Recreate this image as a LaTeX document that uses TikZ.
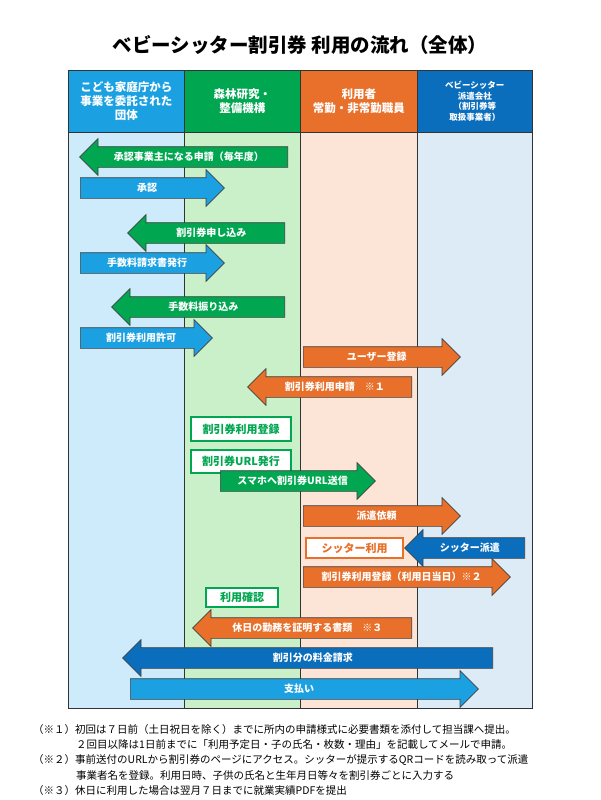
\documentclass[tikz,border=0pt]{standalone}
\usepackage{fontspec}
\setmainfont{Noto Sans CJK JP}
\usetikzlibrary{shapes.arrows,positioning}
\definecolor{cblue}{HTML}{1BA1E2}
\definecolor{cgreen}{HTML}{00A650}
\definecolor{corange}{HTML}{E8702A}
\definecolor{cdblue}{HTML}{0A6EBD}
\definecolor{lblue}{HTML}{CDEBFA}
\definecolor{lgreen}{HTML}{C9F0C9}
\definecolor{lorange}{HTML}{FCE4D6}
\definecolor{lgrey}{HTML}{DDEBF7}
\tikzset{
  head/.style={draw=black!80, line width=0.6, text=white, align=center, font=\bfseries\fontsize{11.5}{14}\selectfont},
  arr/.style={single arrow, draw=black!75, line width=0.7, text=white,
    font=\bfseries\fontsize{10}{11}\selectfont, text height=8.5, text depth=2.5,
    inner ysep=4.5, inner xsep=1, single arrow head extend=8, single arrow head indent=0},
  rarr/.style={arr, anchor=tail},
  larr/.style={arr, anchor=tail, shape border rotate=180},
  box/.style={draw=#1, fill=white, line width=2, text=#1, font=\bfseries\fontsize{11}{12}\selectfont,
    inner sep=2, anchor=north west},
  note/.style={anchor=west, font=\fontsize{10.5}{12}\selectfont, inner sep=0}
}
\begin{document}
\begin{tikzpicture}[x=1pt,y=-1pt]
\useasboundingbox (0,0) rectangle (600,800);
% title
\node (title) at (300,45) {\bfseries\fontsize{19.5}{22}\selectfont ベビーシッター割引券 利用の流れ（全体）};
% lanes
\fill[lblue] (68,132) rectangle (184,708);
\fill[lgreen] (184,132) rectangle (300,708);
\fill[lorange] (300,132) rectangle (417,708);
\fill[lgrey] (417,132) rectangle (532,708);
\draw[black!80, line width=0.6] (68,132) rectangle (532,708)
  (184,132) -- (184,708) (300,132) -- (300,708) (417,132) -- (417,708);
\node[head, fill=cblue, minimum width=116, minimum height=62, anchor=north west] (h1) at (68,70) {こども家庭庁から\\事業を委託された\\団体};
\node[head, fill=cgreen, minimum width=116, minimum height=62, anchor=north west] (h2) at (184,70) {森林研究・\\整備機構};
\node[head, fill=corange, minimum width=117, minimum height=62, anchor=north west] (h3) at (300,70) {利用者\\常勤・非常勤職員};
\node[head, fill=cdblue, minimum width=115, minimum height=62, anchor=north west, font=\bfseries\fontsize{8.5}{10.5}\selectfont] (h4) at (417,70) {ベビーシッター\\派遣会社\\（割引券等\\取扱事業者）};
% flow
\node[larr, fill=cgreen, minimum height=208] (a1) at (288,157) {承認事業主になる申請（毎年度）};
\node[rarr, fill=cblue, minimum height=144] (a2) at (80,188) {承認};
\node[larr, fill=cgreen, minimum height=157] (a3) at (285,233) {割引券申し込み};
\node[rarr, fill=cblue, minimum height=144] (a4) at (80,263) {手数料請求書発行};
\node[larr, fill=cgreen, minimum height=173] (a5) at (285,307) {手数料振り込み};
\node[rarr, fill=cblue, minimum height=132] (a6) at (80,338) {割引券利用許可};
\node[rarr, fill=corange, minimum height=157] (a7) at (303,357) {ユーザー登録};
\node[larr, fill=corange, minimum height=164] (a8) at (412,387) {割引券利用申請　※１};
\node[box=cgreen, minimum width=100, minimum height=24] (b1) at (190,416) {割引券利用登録};
\node[box=cgreen, minimum width=100, minimum height=23] (b2) at (190,449) {割引券URL発行};
\node[rarr, fill=cgreen, minimum height=155] (a9) at (220,481) {スマホへ割引券URL送信};
\node[rarr, fill=corange, minimum height=157] (a10) at (303,516) {派遣依頼};
\node[box=corange, minimum width=97, minimum height=20] (b3) at (305,537) {シッター利用};
\node[larr, fill=cdblue, minimum height=120] (a11) at (525,548) {シッター派遣};
\node[rarr, fill=corange, minimum height=207] (a12) at (303,577) {割引券利用登録（利用日当日）※２};
\node[box=cgreen, minimum width=72, minimum height=19] (b4) at (205,587) {利用確認};
\node[larr, fill=corange, minimum height=219] (a13) at (412,628) {休日の勤務を証明する書類　※３};
\node[larr, fill=cdblue, minimum height=370] (a14) at (493,658) {割引分の料金請求};
\node[rarr, fill=cblue, minimum height=348] (a15) at (130,689) {支払い};
% notes
\node[note] (n1) at (33,730) {（※１）初回は７日前（土日祝日を除く）までに所内の申請様式に必要書類を添付して担当課へ提出。};
\node[note] (n2) at (76,745) {２回目以降は1日前までに「利用予定日・子の氏名・枚数・理由」を記載してメールで申請。};
\node[note] (n3) at (33,760) {（※２）事前送付のURLから割引券のページにアクセス。シッターが提示するQRコードを読み取って派遣};
\node[note] (n4) at (76,775) {事業者名を登録。利用日時、子供の氏名と生年月日等々を割引券ごとに入力する};
\node[note] (n5) at (33,790) {（※３）休日に利用した場合は翌月７日までに就業実績PDFを提出};
\end{tikzpicture}
\end{document}
